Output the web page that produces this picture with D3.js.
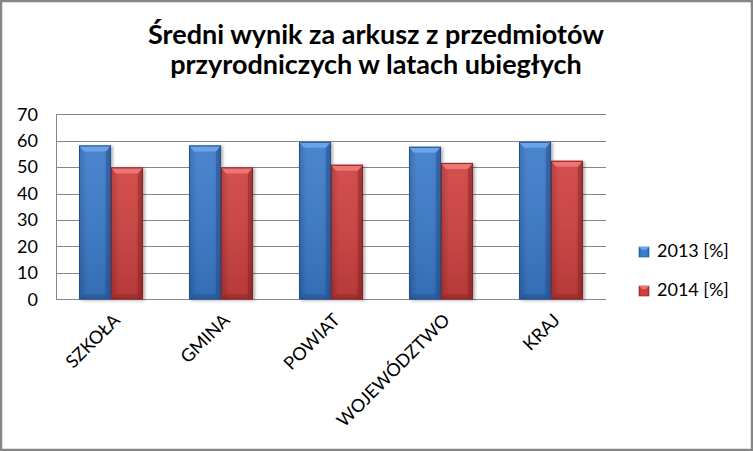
<!DOCTYPE html>
<html>
<head>
<meta charset="utf-8">
<script src="https://cdn.jsdelivr.net/npm/d3@7"></script>
<style>
  body { margin: 0; background: #fff; }
  text { font-family: Lato, "Open Sans", sans-serif; fill: #000; }
</style>
</head>
<body>
<div id="chart"></div>
<script>
var categories = ["SZKOŁA", "GMINA", "POWIAT", "WOJEWÓDZTWO", "KRAJ"];
var seriesNames = ["2013 [%]", "2014 [%]"];
var values2013 = [58.2, 58.2, 59.6, 57.7, 59.6];
var values2014 = [49.9, 49.9, 50.9, 51.6, 52.4];
var yTicks = [0, 10, 20, 30, 40, 50, 60, 70];
var titleLines = ["Średni wynik za arkusz z przedmiotów", "przyrodniczych w latach ubiegłych"];

var w = 753,
  h = 451;
var plot = { left: 56, right: 606, top: 114.3, bottom: 299.3 };

var palette = {
  "2013 [%]": { main: "#3b7bcb", light: "#6aa3e6", dark: "#23508f", edge: "#2d64aa" },
  "2014 [%]": { main: "#cf4140", light: "#ee7473", dark: "#8c2524", edge: "#ad3130" },
};

var svg = d3
  .select("#chart")
  .append("svg")
  .attr("width", w)
  .attr("height", h);

var defs = svg.append("defs");

seriesNames.forEach((s, i) => {
  var c = palette[s];
  var g = defs
    .append("linearGradient")
    .attr("id", "grad" + i)
    .attr("x1", "0")
    .attr("x2", "1")
    .attr("y1", "0")
    .attr("y2", "0");
  g.append("stop").attr("offset", "0").attr("stop-color", c.edge);
  g.append("stop").attr("offset", "0.25").attr("stop-color", c.main);
  g.append("stop").attr("offset", "0.75").attr("stop-color", c.main);
  g.append("stop").attr("offset", "1").attr("stop-color", c.edge);
  var v = defs
    .append("linearGradient")
    .attr("id", "vgrad" + i)
    .attr("x1", "0")
    .attr("x2", "0")
    .attr("y1", "0")
    .attr("y2", "1");
  v.append("stop").attr("offset", "0").attr("stop-color", "#fff").attr("stop-opacity", 0.08);
  v.append("stop").attr("offset", "1").attr("stop-color", "#000").attr("stop-opacity", 0.12);
});

var shadow = defs.append("filter").attr("id", "shadow").attr("x", "-20%").attr("y", "-5%").attr("width", "150%").attr("height", "115%");
shadow
  .append("feDropShadow")
  .attr("dx", 2)
  .attr("dy", 1)
  .attr("stdDeviation", 1.5)
  .attr("flood-color", "#000")
  .attr("flood-opacity", 0.3);

// frame
svg
  .append("rect")
  .attr("x", 1)
  .attr("y", 1)
  .attr("width", w - 2)
  .attr("height", h - 2)
  .attr("fill", "#fff")
  .attr("stroke", "#868686")
  .attr("stroke-width", 2.5);

// title
svg
  .append("text")
  .attr("text-anchor", "middle")
  .attr("font-size", 27)
  .attr("font-weight", "bold")
  .selectAll("tspan")
  .data(titleLines)
  .enter()
  .append("tspan")
  .attr("x", 376)
  .attr("y", (d, i) => 44 + i * 30)
  .text((d) => d);

var y = d3.scaleLinear().domain([0, 70]).range([plot.bottom, plot.top]);
var x0 = d3
  .scaleBand()
  .domain(categories)
  .range([plot.left, plot.right])
  .paddingInner(0.418)
  .paddingOuter(0.209);
var x1 = d3.scaleBand().domain(seriesNames).range([0, x0.bandwidth()]);

// gridlines
svg
  .append("g")
  .selectAll("line")
  .data(yTicks)
  .enter()
  .append("line")
  .attr("x1", plot.left)
  .attr("x2", plot.right)
  .attr("y1", (d) => Math.round(y(d)) + 0.5)
  .attr("y2", (d) => Math.round(y(d)) + 0.5)
  .attr("stroke", "#868686")
  .attr("stroke-width", 1);

svg
  .append("line")
  .attr("x1", plot.left + 0.5)
  .attr("x2", plot.left + 0.5)
  .attr("y1", y(70))
  .attr("y2", y(0))
  .attr("stroke", "#868686");

// y axis labels
var yAxis = svg
  .append("g")
  .attr("transform", `translate(${plot.left},0)`)
  .call(d3.axisLeft(y).tickValues(yTicks).tickSize(0).tickPadding(18));
yAxis.select(".domain").remove();
yAxis
  .selectAll("text")
  .attr("font-size", 18)
  .attr("font-family", "Lato, sans-serif")
  .attr("fill", "#000");

// bars
var rows = categories.map((c, i) => ({
  cat: c,
  vals: [
    { s: seriesNames[0], v: values2013[i], k: 0 },
    { s: seriesNames[1], v: values2014[i], k: 1 },
  ],
}));

var bars = svg
  .append("g")
  .selectAll("g")
  .data(rows)
  .enter()
  .append("g")
  .attr("transform", (d) => `translate(${x0(d.cat)},0)`)
  .selectAll("g")
  .data((d) => d.vals)
  .enter()
  .append("g")
  .attr("filter", "url(#shadow)");

var bev = 5;
function bx(d) { return x1(d.s); }
function bw() { return x1.bandwidth(); }

bars
  .append("rect")
  .attr("x", bx)
  .attr("y", (d) => y(d.v))
  .attr("width", bw)
  .attr("height", (d) => y(0) - y(d.v))
  .attr("fill", (d) => `url(#grad${d.k})`);

bars
  .append("rect")
  .attr("x", bx)
  .attr("y", (d) => y(d.v))
  .attr("width", bw)
  .attr("height", (d) => y(0) - y(d.v))
  .attr("fill", (d) => `url(#vgrad${d.k})`);

// top bevel
bars
  .append("path")
  .attr("d", (d) => {
    var l = bx(d), r = l + bw(), t = y(d.v);
    return `M${l},${t}L${r},${t}L${r - bev},${t + bev + 1}L${l + bev},${t + bev + 1}Z`;
  })
  .attr("fill", (d) => palette[d.s].light);

// bottom bevel
bars
  .append("path")
  .attr("d", (d) => {
    var l = bx(d), r = l + bw(), b = y(0);
    return `M${l},${b}L${r},${b}L${r - bev},${b - bev}L${l + bev},${b - bev}Z`;
  })
  .attr("fill", (d) => palette[d.s].dark)
  .attr("opacity", 0.5);

// right bevel
bars
  .append("path")
  .attr("d", (d) => {
    var l = bx(d), r = l + bw(), t = y(d.v), b = y(0);
    return `M${r},${t}L${r},${b}L${r - bev},${b - bev}L${r - bev},${t + bev + 1}Z`;
  })
  .attr("fill", (d) => palette[d.s].dark)
  .attr("opacity", 0.45);

bars
  .append("rect")
  .attr("x", (d) => bx(d) + 0.5)
  .attr("y", (d) => y(d.v) + 0.5)
  .attr("width", (d) => bw() - 1)
  .attr("height", (d) => y(0) - y(d.v) - 1)
  .attr("fill", "none")
  .attr("stroke", (d) => palette[d.s].dark)
  .attr("stroke-width", 1);

// x labels
svg
  .append("g")
  .selectAll("text")
  .data(categories)
  .enter()
  .append("text")
  .attr("text-anchor", "end")
  .attr("font-size", 18)
  .attr("transform", (d) => `translate(${x0(d) + x0.bandwidth() / 2 + 10},${plot.bottom + 22})rotate(-45)`)
  .text((d) => d);

// legend
var legend = svg
  .append("g")
  .selectAll("g")
  .data(seriesNames)
  .enter()
  .append("g")
  .attr("transform", (d, i) => `translate(639,${247 + i * 39})`);

legend
  .append("rect")
  .attr("width", 10)
  .attr("height", 10)
  .attr("fill", (d, i) => `url(#grad${i})`)
  .attr("stroke", (d) => palette[d].dark)
  .attr("stroke-width", 0.6);

legend
  .append("path")
  .attr("d", "M0,0L10,0L7,3L3,3Z")
  .attr("fill", (d) => palette[d].light);

legend
  .append("text")
  .attr("x", 18)
  .attr("y", 10)
  .attr("font-size", 18)
  .text((d) => d);
</script>
</body>
</html>
